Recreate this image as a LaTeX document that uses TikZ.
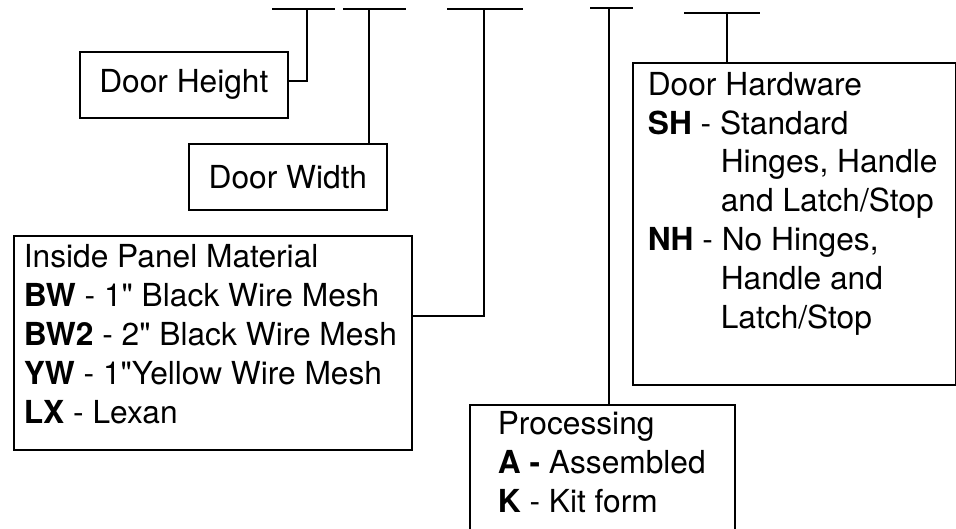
\documentclass[tikz,border=0pt]{standalone}
\usepackage{fontspec}
\setmainfont{TeX Gyre Heros}[Ligatures=TeXOff]
\begin{document}
\begin{tikzpicture}[x=1pt,y=-1pt,line width=1.7pt,
  every node/.style={font=\fontsize{31.7}{38.8}\selectfont},
  boxframe/.style={draw,anchor=north west,inner sep=0pt},
  txtlines/.style={anchor=base west,align=left,inner sep=0pt}]
\clip (0,0) rectangle (956,528);
% code bars along the top
\coordinate (b1l) at (272,9); \coordinate (b1r) at (335,9); \coordinate (t1) at (307,9);
\coordinate (b2l) at (343,9); \coordinate (b2r) at (406,9); \coordinate (t2) at (369,9);
\coordinate (b3l) at (447,9); \coordinate (b3r) at (523,9); \coordinate (t3) at (484,9);
\coordinate (b4l) at (590,8); \coordinate (b4r) at (633,8); \coordinate (t4) at (609,8);
\coordinate (b5l) at (684,13); \coordinate (b5r) at (760,13); \coordinate (t5) at (727,13);
\foreach \l/\r in {b1l/b1r,b2l/b2r,b3l/b3r,b4l/b4r,b5l/b5r}{\draw (\l)--(\r);}
% boxes (text lines sit on the baseline of their last line)
\node[boxframe,minimum width=208pt,minimum height=66pt] (hgt) at (79,51) {Door Height};
\node[boxframe,minimum width=198pt,minimum height=66pt] (wid) at (188,143) {Door Width};
\node[boxframe,minimum width=398pt,minimum height=214pt] (pnl) at (13,235) {};
\node[txtlines] (pnltxt) at (23,423) {Inside Panel Material\\
  \textbf{BW} - 1" Black Wire Mesh\\
  \textbf{BW2} - 2" Black Wire Mesh\\
  \textbf{YW} - 1"Yellow Wire Mesh\\
  \textbf{LX} - Lexan};
\node[boxframe,minimum width=323pt,minimum height=322pt] (hw) at (632,62) {};
\node[txtlines] (hwtxt) at (647,328) {Door Hardware\\
  \textbf{SH} - Standard\\
  \hspace*{73pt}Hinges, Handle\\
  \hspace*{73pt}and Latch/Stop\\
  \textbf{NH} - No Hinges,\\
  \hspace*{73pt}Handle and\\
  \hspace*{73pt}Latch/Stop};
\node[boxframe,minimum width=265pt,minimum height=150pt] (proc) at (469,404) {};
\node[txtlines] (proctxt) at (497,512) {Processing\\
  \textbf{A -} Assembled\\
  \textbf{K} - Kit form};
% connectors
\coordinate (k1) at (307,81);
\draw (t1) -- (k1) -- (k1 -| hgt.east);
\draw (t2) -- (t2 |- wid.north);
\coordinate (k3) at (484,316);
\draw (t3) -- (k3) -- (k3 -| pnl.east);
\draw (t4) -- (t4 |- proc.north);
\draw (t5) -- (t5 |- hw.north);
\end{tikzpicture}
\end{document}
